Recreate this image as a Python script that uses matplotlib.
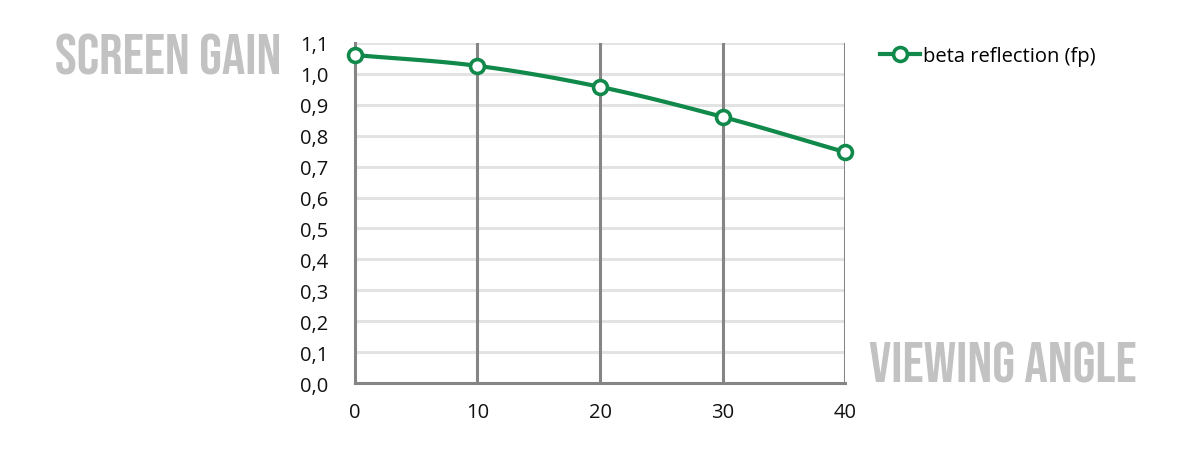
"""Screen gain vs viewing angle, recreated from a reference picture."""

import matplotlib as mpl
import matplotlib.pyplot as plt
import numpy as np
from matplotlib.ticker import FuncFormatter

ANGLES = [0, 10, 20, 30, 40]
GAIN = [1.061, 1.026, 0.958, 0.861, 0.747]
SERIES_LABEL = "beta reflection (fp)"
Y_TICKS = [0.0, 0.1, 0.2, 0.3, 0.4, 0.5, 0.6, 0.7, 0.8, 0.9, 1.0, 1.1]

GREEN = "#10894a"
DARK_GRID = "#858585"
LIGHT_GRID = "#e3e3e3"
TITLE_GREY = "#c2c2c2"


def _smooth(x, y, n=30):
    """Catmull-Rom curve through the points, like a spreadsheet smoothed line."""
    x = np.asarray(x, float)
    y = np.asarray(y, float)
    px = np.concatenate([[2 * x[0] - x[1]], x, [2 * x[-1] - x[-2]]])
    py = np.concatenate([[2 * y[0] - y[1]], y, [2 * y[-1] - y[-2]]])
    xs, ys = [], []
    t = np.linspace(0, 1, n)
    for i in range(1, len(px) - 2):
        for p, out in ((px, xs), (py, ys)):
            p0, p1, p2, p3 = p[i - 1], p[i], p[i + 1], p[i + 2]
            out.append(
                0.5
                * (
                    2 * p1
                    + (-p0 + p2) * t
                    + (2 * p0 - 5 * p1 + 4 * p2 - p3) * t**2
                    + (-p0 + 3 * p1 - 3 * p2 + p3) * t**3
                )
            )
    return np.concatenate(xs), np.concatenate(ys)


mpl.rcParams.update({"font.family": ["Open Sans", "DejaVu Sans"]})

fig = plt.figure(figsize=(12, 4.52), dpi=100)
ax = fig.add_axes([0.2958, 0.1504, 0.4084, 0.7523])

for y in Y_TICKS[1:]:
    ax.axhline(y, color=LIGHT_GRID, linewidth=2.2, zorder=1)
for x in ANGLES[1:]:
    ax.axvline(x, color=DARK_GRID, linewidth=2.2, zorder=2)

sx, sy = _smooth(ANGLES, GAIN)
ax.plot(sx, sy, color=GREEN, linewidth=3, zorder=3, solid_capstyle="round")
ax.plot(
    ANGLES,
    GAIN,
    linestyle="none",
    marker="o",
    markersize=10,
    markerfacecolor="white",
    markeredgecolor=GREEN,
    markeredgewidth=2.6,
    zorder=4,
    clip_on=False,
)

ax.set_xlim(ANGLES[0], ANGLES[-1])
ax.set_ylim(Y_TICKS[0], Y_TICKS[-1])
ax.set_xticks(ANGLES)
ax.set_yticks(Y_TICKS)
ax.yaxis.set_major_formatter(FuncFormatter(lambda v, _p: f"{v:.1f}".replace(".", ",")))
ax.tick_params(length=0, labelsize=14.5, colors="#111111")
ax.tick_params(axis="x", pad=14)
ax.tick_params(axis="y", pad=19)

for side in ("top", "right"):
    ax.spines[side].set_visible(False)
for side in ("left", "bottom"):
    ax.spines[side].set_color(DARK_GRID)
    ax.spines[side].set_linewidth(2.2)
    ax.spines[side].set_zorder(2)

leg_handle = plt.Line2D(
    [], [], color=GREEN, linewidth=3, marker="o", markersize=10,
    markerfacecolor="white", markeredgecolor=GREEN, markeredgewidth=2.6,
)
fig.legend(
    [leg_handle],
    [SERIES_LABEL],
    loc="center left",
    bbox_to_anchor=(0.718, 0.874),
    frameon=False,
    fontsize=14.5,
    handlelength=2.0,
    handletextpad=0.15,
)

title_kw = dict(
    family=["Bebas Neue", "Anton", "Fjalla One", "Liberation Sans Narrow", "DejaVu Sans"],
    fontweight="bold",
    fontsize=42,
    color=TITLE_GREY,
)
fig.text(0.046, 0.879, "SCREEN GAIN", ha="left", va="center", **title_kw)
fig.text(0.947, 0.199, "VIEWING ANGLE", ha="right", va="center", **title_kw)

fig.savefig("out.png", dpi=100)
